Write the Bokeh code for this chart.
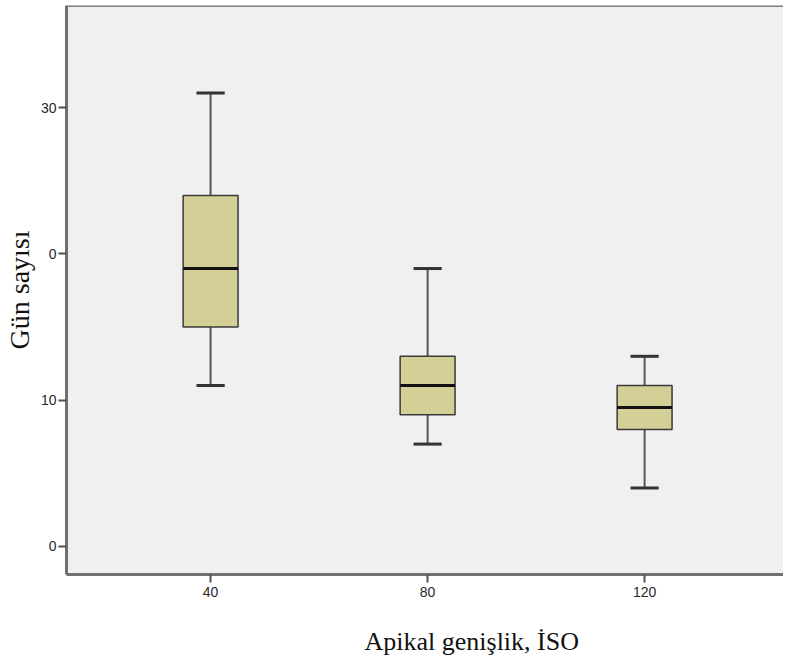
from bokeh.plotting import figure
from bokeh.models import FixedTicker, Range1d, Title, Span
from bokeh.embed import file_html
from bokeh.resources import INLINE

# ---- data ----
groups = ["40", "80", "120"]
whisker_low = [11, 7, 4]
q1 = [15, 9, 8]
median = [19, 11, 9.5]
q3 = [24, 13, 11]
whisker_high = [31, 19, 13]
y_ticks = [0, 10, 20, 30]
y_tick_labels = ["0", "10", "0", "30"]

xpos = [i + 1 for i in range(len(groups))]

BOX_W = 0.253
CAP_W = 0.13
FILL = "#d3cf96"
EDGE = "#3a3a3a"
Y_TOP = 36.98

p = figure(
    frame_width=717, frame_height=569,
    x_range=Range1d(0.336, 3.640), y_range=Range1d(-1.914, Y_TOP),
    output_backend="svg", toolbar_location=None,
    min_border_left=61, min_border_right=0, min_border_top=5, min_border_bottom=80,
    background_fill_color="#f0f0f0", border_fill_color="white",
)
p.outline_line_color = None
p.grid.visible = False

# whiskers
p.segment(xpos, q3, xpos, whisker_high, line_color="#555555", line_width=2)
p.segment(xpos, whisker_low, xpos, q1, line_color="#555555", line_width=2)
# caps
p.segment([x - CAP_W / 2 for x in xpos], whisker_high, [x + CAP_W / 2 for x in xpos], whisker_high,
          line_color="#333333", line_width=3)
p.segment([x - CAP_W / 2 for x in xpos], whisker_low, [x + CAP_W / 2 for x in xpos], whisker_low,
          line_color="#333333", line_width=3)
# boxes
p.vbar(x=xpos, width=BOX_W, bottom=q1, top=q3, fill_color=FILL, line_color=EDGE, line_width=1.5)
# medians
p.segment([x - BOX_W / 2 for x in xpos], median, [x + BOX_W / 2 for x in xpos], median,
          line_color="#111111", line_width=3)

# top border line
p.add_layout(Span(location=Y_TOP, dimension="width", line_color="#808080", line_width=3))

# axes
for ax in (p.xaxis[0], p.yaxis[0]):
    ax.axis_line_color = "#707070"
    ax.axis_line_width = 3
    ax.major_tick_line_color = "#505050"
    ax.major_tick_line_width = 2
    ax.major_tick_in = 0
    ax.major_tick_out = 8
    ax.minor_tick_line_color = None
    ax.major_label_text_font = "Liberation Sans"
    ax.major_label_text_font_size = "14px"
    ax.major_label_text_color = "#2a2a2a"

p.xaxis.ticker = FixedTicker(ticks=xpos)
p.xaxis.major_label_overrides = {x: g for x, g in zip(xpos, groups)}
p.xaxis.major_label_standoff = 4

p.yaxis.ticker = FixedTicker(ticks=y_ticks)
p.yaxis.major_label_overrides = {t: l for t, l in zip(y_ticks, y_tick_labels)}
p.yaxis.major_label_standoff = 2
p.yaxis.axis_label = "Gün sayısı"
p.yaxis.axis_label_text_font = "Liberation Serif"
p.yaxis.axis_label_text_font_style = "normal"
p.yaxis.axis_label_text_font_size = "28px"
p.yaxis.axis_label_text_color = "#111111"
p.yaxis.axis_label_standoff = 3

p.add_layout(Title(text="Apikal genişlik, İSO", align="left", offset=298,
                   text_font="Liberation Serif", text_font_style="normal",
                   text_font_size="26px", text_color="#111111", standoff=50), "below")

open("out.html", "w").write(file_html(p, INLINE))
